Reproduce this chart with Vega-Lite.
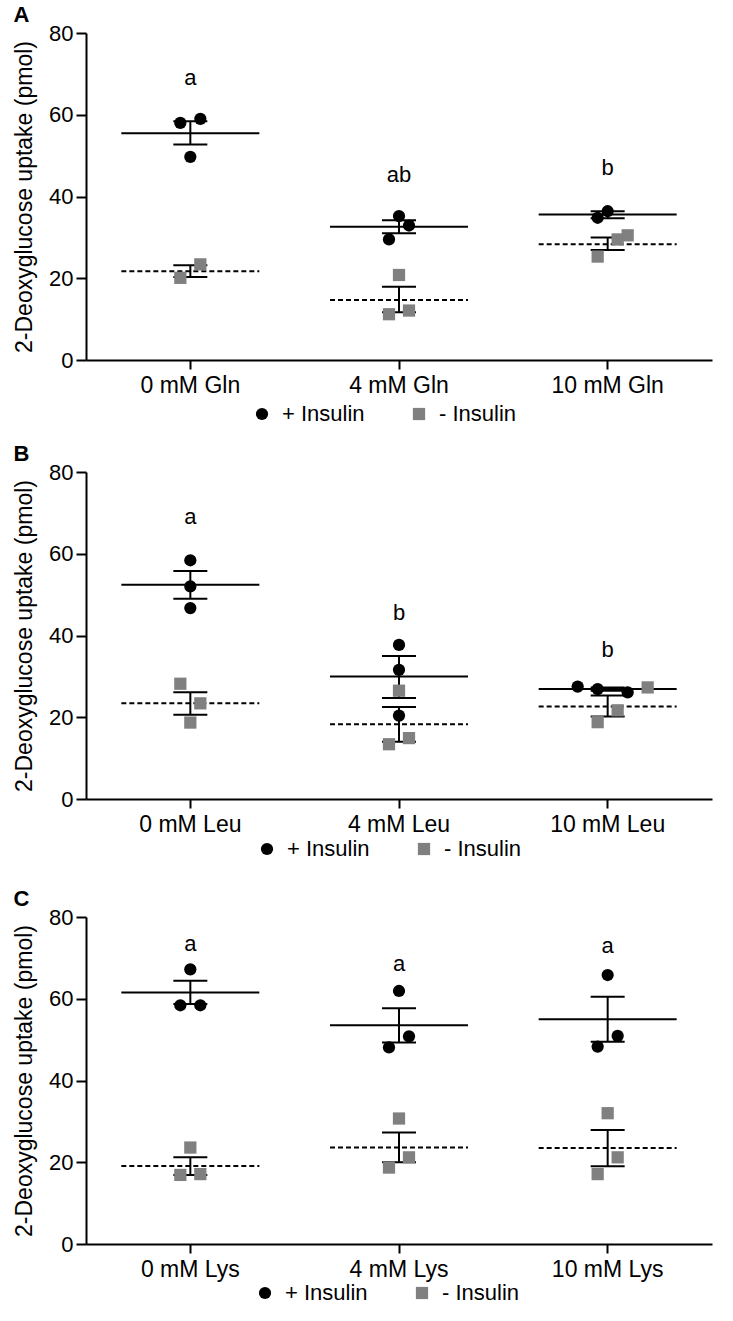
{
  "$schema": "https://vega.github.io/schema/vega-lite/v6.json",
  "padding": {"left": 13, "top": 4, "right": 5, "bottom": 5},
  "background": "white",
  "config": {
    "font": "Liberation Sans",
    "view": {"stroke": null},
    "axis": {"grid": false, "domainColor": "black", "domainWidth": 2, "tickColor": "black", "tickWidth": 2, "labelColor": "black", "titleColor": "black", "titleFontWeight": "normal"},
    "legend": {"labelColor": "black"},
    "text": {"color": "black"},
    "concat": {"spacing": 18}
  },
  "datasets": {
    "pts": [
      {"panel": "A", "cat": "0 mM Gln", "ins": "+ Insulin", "val": 58.0, "jit": -1},
      {"panel": "A", "cat": "0 mM Gln", "ins": "+ Insulin", "val": 59.0, "jit": 1},
      {"panel": "A", "cat": "0 mM Gln", "ins": "+ Insulin", "val": 49.7, "jit": 0},
      {"panel": "A", "cat": "0 mM Gln", "ins": "- Insulin", "val": 20.1, "jit": -1},
      {"panel": "A", "cat": "0 mM Gln", "ins": "- Insulin", "val": 23.4, "jit": 1},
      {"panel": "A", "cat": "4 mM Gln", "ins": "+ Insulin", "val": 35.2, "jit": 0},
      {"panel": "A", "cat": "4 mM Gln", "ins": "+ Insulin", "val": 32.9, "jit": 1},
      {"panel": "A", "cat": "4 mM Gln", "ins": "+ Insulin", "val": 29.5, "jit": -1},
      {"panel": "A", "cat": "4 mM Gln", "ins": "- Insulin", "val": 20.8, "jit": 0},
      {"panel": "A", "cat": "4 mM Gln", "ins": "- Insulin", "val": 11.2, "jit": -1},
      {"panel": "A", "cat": "4 mM Gln", "ins": "- Insulin", "val": 12.1, "jit": 1},
      {"panel": "A", "cat": "10 mM Gln", "ins": "+ Insulin", "val": 36.4, "jit": 0},
      {"panel": "A", "cat": "10 mM Gln", "ins": "+ Insulin", "val": 34.8, "jit": -1},
      {"panel": "A", "cat": "10 mM Gln", "ins": "- Insulin", "val": 30.5, "jit": 2},
      {"panel": "A", "cat": "10 mM Gln", "ins": "- Insulin", "val": 29.5, "jit": 1},
      {"panel": "A", "cat": "10 mM Gln", "ins": "- Insulin", "val": 25.3, "jit": -1},
      {"panel": "B", "cat": "0 mM Leu", "ins": "+ Insulin", "val": 58.4, "jit": 0},
      {"panel": "B", "cat": "0 mM Leu", "ins": "+ Insulin", "val": 52.0, "jit": 0},
      {"panel": "B", "cat": "0 mM Leu", "ins": "+ Insulin", "val": 46.7, "jit": 0},
      {"panel": "B", "cat": "0 mM Leu", "ins": "- Insulin", "val": 28.2, "jit": -1},
      {"panel": "B", "cat": "0 mM Leu", "ins": "- Insulin", "val": 23.4, "jit": 1},
      {"panel": "B", "cat": "0 mM Leu", "ins": "- Insulin", "val": 18.7, "jit": 0},
      {"panel": "B", "cat": "4 mM Leu", "ins": "+ Insulin", "val": 37.7, "jit": 0},
      {"panel": "B", "cat": "4 mM Leu", "ins": "+ Insulin", "val": 31.6, "jit": 0},
      {"panel": "B", "cat": "4 mM Leu", "ins": "+ Insulin", "val": 20.4, "jit": 0},
      {"panel": "B", "cat": "4 mM Leu", "ins": "- Insulin", "val": 26.5, "jit": 0},
      {"panel": "B", "cat": "4 mM Leu", "ins": "- Insulin", "val": 13.4, "jit": -1},
      {"panel": "B", "cat": "4 mM Leu", "ins": "- Insulin", "val": 14.9, "jit": 1},
      {"panel": "B", "cat": "10 mM Leu", "ins": "+ Insulin", "val": 27.5, "jit": -3},
      {"panel": "B", "cat": "10 mM Leu", "ins": "+ Insulin", "val": 26.9, "jit": -1},
      {"panel": "B", "cat": "10 mM Leu", "ins": "+ Insulin", "val": 26.1, "jit": 2},
      {"panel": "B", "cat": "10 mM Leu", "ins": "- Insulin", "val": 27.3, "jit": 4},
      {"panel": "B", "cat": "10 mM Leu", "ins": "- Insulin", "val": 21.7, "jit": 1},
      {"panel": "B", "cat": "10 mM Leu", "ins": "- Insulin", "val": 18.8, "jit": -1},
      {"panel": "C", "cat": "0 mM Lys", "ins": "+ Insulin", "val": 67.2, "jit": 0},
      {"panel": "C", "cat": "0 mM Lys", "ins": "+ Insulin", "val": 58.4, "jit": -1},
      {"panel": "C", "cat": "0 mM Lys", "ins": "+ Insulin", "val": 58.4, "jit": 1},
      {"panel": "C", "cat": "0 mM Lys", "ins": "- Insulin", "val": 23.6, "jit": 0},
      {"panel": "C", "cat": "0 mM Lys", "ins": "- Insulin", "val": 16.9, "jit": -1},
      {"panel": "C", "cat": "0 mM Lys", "ins": "- Insulin", "val": 17.1, "jit": 1},
      {"panel": "C", "cat": "4 mM Lys", "ins": "+ Insulin", "val": 61.9, "jit": 0},
      {"panel": "C", "cat": "4 mM Lys", "ins": "+ Insulin", "val": 50.8, "jit": 1},
      {"panel": "C", "cat": "4 mM Lys", "ins": "+ Insulin", "val": 48.1, "jit": -1},
      {"panel": "C", "cat": "4 mM Lys", "ins": "- Insulin", "val": 30.7, "jit": 0},
      {"panel": "C", "cat": "4 mM Lys", "ins": "- Insulin", "val": 21.2, "jit": 1},
      {"panel": "C", "cat": "4 mM Lys", "ins": "- Insulin", "val": 18.7, "jit": -1},
      {"panel": "C", "cat": "10 mM Lys", "ins": "+ Insulin", "val": 65.8, "jit": 0},
      {"panel": "C", "cat": "10 mM Lys", "ins": "+ Insulin", "val": 50.9, "jit": 1},
      {"panel": "C", "cat": "10 mM Lys", "ins": "+ Insulin", "val": 48.3, "jit": -1},
      {"panel": "C", "cat": "10 mM Lys", "ins": "- Insulin", "val": 32.0, "jit": 0},
      {"panel": "C", "cat": "10 mM Lys", "ins": "- Insulin", "val": 21.2, "jit": 1},
      {"panel": "C", "cat": "10 mM Lys", "ins": "- Insulin", "val": 17.1, "jit": -1}
    ],
    "sum": [
      {"panel": "A", "cat": "0 mM Gln", "ins": "+ Insulin", "mean": 55.5, "lo": 52.7, "hi": 58.4},
      {"panel": "A", "cat": "0 mM Gln", "ins": "- Insulin", "mean": 21.7, "lo": 20.3, "hi": 23.2},
      {"panel": "A", "cat": "4 mM Gln", "ins": "+ Insulin", "mean": 32.6, "lo": 31.0, "hi": 34.2},
      {"panel": "A", "cat": "4 mM Gln", "ins": "- Insulin", "mean": 14.7, "lo": 11.7, "hi": 17.9},
      {"panel": "A", "cat": "10 mM Gln", "ins": "+ Insulin", "mean": 35.6, "lo": 34.7, "hi": 36.4},
      {"panel": "A", "cat": "10 mM Gln", "ins": "- Insulin", "mean": 28.3, "lo": 26.9, "hi": 30.0},
      {"panel": "B", "cat": "0 mM Leu", "ins": "+ Insulin", "mean": 52.4, "lo": 49.0, "hi": 55.8},
      {"panel": "B", "cat": "0 mM Leu", "ins": "- Insulin", "mean": 23.4, "lo": 20.6, "hi": 26.1},
      {"panel": "B", "cat": "4 mM Leu", "ins": "+ Insulin", "mean": 30.0, "lo": 24.7, "hi": 35.0},
      {"panel": "B", "cat": "4 mM Leu", "ins": "- Insulin", "mean": 18.3, "lo": 14.0, "hi": 22.5},
      {"panel": "B", "cat": "10 mM Leu", "ins": "+ Insulin", "mean": 26.9, "lo": 26.5, "hi": 27.3},
      {"panel": "B", "cat": "10 mM Leu", "ins": "- Insulin", "mean": 22.6, "lo": 20.2, "hi": 25.3},
      {"panel": "C", "cat": "0 mM Lys", "ins": "+ Insulin", "mean": 61.5, "lo": 58.7, "hi": 64.4},
      {"panel": "C", "cat": "0 mM Lys", "ins": "- Insulin", "mean": 19.1, "lo": 16.9, "hi": 21.2},
      {"panel": "C", "cat": "4 mM Lys", "ins": "+ Insulin", "mean": 53.5, "lo": 49.3, "hi": 57.7},
      {"panel": "C", "cat": "4 mM Lys", "ins": "- Insulin", "mean": 23.6, "lo": 20.0, "hi": 27.3},
      {"panel": "C", "cat": "10 mM Lys", "ins": "+ Insulin", "mean": 55.0, "lo": 49.5, "hi": 60.5},
      {"panel": "C", "cat": "10 mM Lys", "ins": "- Insulin", "mean": 23.5, "lo": 19.0, "hi": 27.9}
    ],
    "lab": [
      {"panel": "A", "cat": "0 mM Gln", "txt": "a", "pos": 69.1},
      {"panel": "A", "cat": "4 mM Gln", "txt": "ab", "pos": 45.3},
      {"panel": "A", "cat": "10 mM Gln", "txt": "b", "pos": 47.0},
      {"panel": "B", "cat": "0 mM Leu", "txt": "a", "pos": 69.1},
      {"panel": "B", "cat": "4 mM Leu", "txt": "b", "pos": 45.5},
      {"panel": "B", "cat": "10 mM Leu", "txt": "b", "pos": 36.5},
      {"panel": "C", "cat": "0 mM Lys", "txt": "a", "pos": 73.3},
      {"panel": "C", "cat": "4 mM Lys", "txt": "a", "pos": 68.4},
      {"panel": "C", "cat": "10 mM Lys", "txt": "a", "pos": 72.9}
    ]
  },
  "resolve": {
    "scale": {"x": "independent", "color": "independent", "shape": "independent"},
    "legend": {"color": "independent", "shape": "independent"}
  },
  "vconcat": [
    {
      "title": {"text": "A", "anchor": "start", "frame": "bounds", "fontSize": 22, "fontWeight": "bold", "offset": -5},
      "width": 626, "height": 327,
      "layer": [
        {
          "data": {"name": "sum"}, "transform": [{"filter": "datum.panel === 'A' && datum.ins === '+ Insulin'"}],
          "mark": {"type": "rule", "color": "black", "strokeWidth": 2, "xOffset": -69, "x2Offset": 69},
          "encoding": {
            "x": {"field": "cat", "type": "nominal", "bandPosition": 0.5, "scale": {"type": "band", "domain": ["0 mM Gln", "4 mM Gln", "10 mM Gln"], "paddingInner": 0, "paddingOuter": 0}, "axis": {"title": null, "labelAngle": 0, "labelFontSize": 23, "tickSize": 9, "labelPadding": 5}},
            "x2": {"field": "cat", "bandPosition": 0.5},
            "y": {"field": "mean", "type": "quantitative", "scale": {"domain": [0, 80], "nice": false}, "axis": {"title": "2-Deoxyglucose uptake (pmol)", "values": [0, 20, 40, 60, 80], "labelFontSize": 22, "titleFontSize": 23, "tickSize": 10, "labelPadding": 3, "titlePadding": 12}}
          }
        },
        {
          "data": {"name": "sum"}, "transform": [{"filter": "datum.panel === 'A' && datum.ins === '- Insulin'"}],
          "mark": {"type": "rule", "color": "black", "strokeWidth": 2, "strokeDash": [5, 3], "xOffset": -69, "x2Offset": 69},
          "encoding": {"x": {"field": "cat", "type": "nominal", "bandPosition": 0.5}, "x2": {"field": "cat", "bandPosition": 0.5}, "y": {"field": "mean", "type": "quantitative"}}
        },
        {
          "data": {"name": "sum"}, "transform": [{"filter": "datum.panel === 'A'"}],
          "mark": {"type": "rule", "color": "black", "strokeWidth": 2},
          "encoding": {"x": {"field": "cat", "type": "nominal", "bandPosition": 0.5}, "y": {"field": "lo", "type": "quantitative"}, "y2": {"field": "hi"}}
        },
        {
          "data": {"name": "sum"}, "transform": [{"filter": "datum.panel === 'A'"}],
          "mark": {"type": "rule", "color": "black", "strokeWidth": 2, "xOffset": -17, "x2Offset": 17},
          "encoding": {"x": {"field": "cat", "type": "nominal", "bandPosition": 0.5}, "x2": {"field": "cat", "bandPosition": 0.5}, "y": {"field": "hi", "type": "quantitative"}}
        },
        {
          "data": {"name": "sum"}, "transform": [{"filter": "datum.panel === 'A'"}],
          "mark": {"type": "rule", "color": "black", "strokeWidth": 2, "xOffset": -17, "x2Offset": 17},
          "encoding": {"x": {"field": "cat", "type": "nominal", "bandPosition": 0.5}, "x2": {"field": "cat", "bandPosition": 0.5}, "y": {"field": "lo", "type": "quantitative"}}
        },
        {
          "data": {"name": "pts"}, "transform": [{"filter": "datum.panel === 'A'"}],
          "mark": {"type": "point", "filled": true, "opacity": 1, "size": 150},
          "encoding": {
            "x": {"field": "cat", "type": "nominal"},
            "xOffset": {"field": "jit", "type": "quantitative", "scale": {"domain": [-2, 2], "range": [84.33, 124.33]}},
            "y": {"field": "val", "type": "quantitative"},
            "color": {"field": "ins", "type": "nominal", "scale": {"domain": ["+ Insulin", "- Insulin"], "range": ["#000000", "#808080"]}, "legend": {"title": null, "orient": "none", "legendX": 165, "legendY": 370, "padding": 0, "direction": "horizontal", "labelFontSize": 22, "symbolSize": 150, "labelOffset": 9, "columnPadding": 43}},
            "shape": {"field": "ins", "type": "nominal", "scale": {"domain": ["+ Insulin", "- Insulin"], "range": ["circle", "square"]}, "legend": {"title": null, "orient": "none", "legendX": 165, "legendY": 370, "padding": 0, "direction": "horizontal", "labelFontSize": 22, "symbolSize": 150, "labelOffset": 9, "columnPadding": 43}}
          }
        },
        {
          "data": {"name": "lab"}, "transform": [{"filter": "datum.panel === 'A'"}],
          "mark": {"type": "text", "fontSize": 22, "baseline": "middle"},
          "encoding": {"x": {"field": "cat", "type": "nominal"}, "y": {"field": "pos", "type": "quantitative"}, "text": {"field": "txt"}}
        }
      ]
    },
    {
      "title": {"text": "B", "anchor": "start", "frame": "bounds", "fontSize": 22, "fontWeight": "bold", "offset": -5},
      "width": 626, "height": 327,
      "layer": [
        {
          "data": {"name": "sum"}, "transform": [{"filter": "datum.panel === 'B' && datum.ins === '+ Insulin'"}],
          "mark": {"type": "rule", "color": "black", "strokeWidth": 2, "xOffset": -69, "x2Offset": 69},
          "encoding": {
            "x": {"field": "cat", "type": "nominal", "bandPosition": 0.5, "scale": {"type": "band", "domain": ["0 mM Leu", "4 mM Leu", "10 mM Leu"], "paddingInner": 0, "paddingOuter": 0}, "axis": {"title": null, "labelAngle": 0, "labelFontSize": 23, "tickSize": 9, "labelPadding": 5}},
            "x2": {"field": "cat", "bandPosition": 0.5},
            "y": {"field": "mean", "type": "quantitative", "scale": {"domain": [0, 80], "nice": false}, "axis": {"title": "2-Deoxyglucose uptake (pmol)", "values": [0, 20, 40, 60, 80], "labelFontSize": 22, "titleFontSize": 23, "tickSize": 10, "labelPadding": 3, "titlePadding": 12}}
          }
        },
        {
          "data": {"name": "sum"}, "transform": [{"filter": "datum.panel === 'B' && datum.ins === '- Insulin'"}],
          "mark": {"type": "rule", "color": "black", "strokeWidth": 2, "strokeDash": [5, 3], "xOffset": -69, "x2Offset": 69},
          "encoding": {"x": {"field": "cat", "type": "nominal", "bandPosition": 0.5}, "x2": {"field": "cat", "bandPosition": 0.5}, "y": {"field": "mean", "type": "quantitative"}}
        },
        {
          "data": {"name": "sum"}, "transform": [{"filter": "datum.panel === 'B'"}],
          "mark": {"type": "rule", "color": "black", "strokeWidth": 2},
          "encoding": {"x": {"field": "cat", "type": "nominal", "bandPosition": 0.5}, "y": {"field": "lo", "type": "quantitative"}, "y2": {"field": "hi"}}
        },
        {
          "data": {"name": "sum"}, "transform": [{"filter": "datum.panel === 'B'"}],
          "mark": {"type": "rule", "color": "black", "strokeWidth": 2, "xOffset": -17, "x2Offset": 17},
          "encoding": {"x": {"field": "cat", "type": "nominal", "bandPosition": 0.5}, "x2": {"field": "cat", "bandPosition": 0.5}, "y": {"field": "hi", "type": "quantitative"}}
        },
        {
          "data": {"name": "sum"}, "transform": [{"filter": "datum.panel === 'B'"}],
          "mark": {"type": "rule", "color": "black", "strokeWidth": 2, "xOffset": -17, "x2Offset": 17},
          "encoding": {"x": {"field": "cat", "type": "nominal", "bandPosition": 0.5}, "x2": {"field": "cat", "bandPosition": 0.5}, "y": {"field": "lo", "type": "quantitative"}}
        },
        {
          "data": {"name": "pts"}, "transform": [{"filter": "datum.panel === 'B'"}],
          "mark": {"type": "point", "filled": true, "opacity": 1, "size": 150},
          "encoding": {
            "x": {"field": "cat", "type": "nominal"},
            "xOffset": {"field": "jit", "type": "quantitative", "scale": {"domain": [-2, 2], "range": [84.33, 124.33]}},
            "y": {"field": "val", "type": "quantitative"},
            "color": {"field": "ins", "type": "nominal", "scale": {"domain": ["+ Insulin", "- Insulin"], "range": ["#000000", "#808080"]}, "legend": {"title": null, "orient": "none", "legendX": 160, "legendY": 356, "padding": 10, "direction": "horizontal", "labelFontSize": 22, "symbolSize": 150, "labelOffset": 9, "columnPadding": 43}},
            "shape": {"field": "ins", "type": "nominal", "scale": {"domain": ["+ Insulin", "- Insulin"], "range": ["circle", "square"]}, "legend": {"title": null, "orient": "none", "legendX": 160, "legendY": 356, "padding": 10, "direction": "horizontal", "labelFontSize": 22, "symbolSize": 150, "labelOffset": 9, "columnPadding": 43}}
          }
        },
        {
          "data": {"name": "lab"}, "transform": [{"filter": "datum.panel === 'B'"}],
          "mark": {"type": "text", "fontSize": 22, "baseline": "middle"},
          "encoding": {"x": {"field": "cat", "type": "nominal"}, "y": {"field": "pos", "type": "quantitative"}, "text": {"field": "txt"}}
        }
      ]
    },
    {
      "title": {"text": "C", "anchor": "start", "frame": "bounds", "fontSize": 22, "fontWeight": "bold", "offset": -5},
      "width": 626, "height": 327,
      "layer": [
        {
          "data": {"name": "sum"}, "transform": [{"filter": "datum.panel === 'C' && datum.ins === '+ Insulin'"}],
          "mark": {"type": "rule", "color": "black", "strokeWidth": 2, "xOffset": -69, "x2Offset": 69},
          "encoding": {
            "x": {"field": "cat", "type": "nominal", "bandPosition": 0.5, "scale": {"type": "band", "domain": ["0 mM Lys", "4 mM Lys", "10 mM Lys"], "paddingInner": 0, "paddingOuter": 0}, "axis": {"title": null, "labelAngle": 0, "labelFontSize": 23, "tickSize": 9, "labelPadding": 5}},
            "x2": {"field": "cat", "bandPosition": 0.5},
            "y": {"field": "mean", "type": "quantitative", "scale": {"domain": [0, 80], "nice": false}, "axis": {"title": "2-Deoxyglucose uptake (pmol)", "values": [0, 20, 40, 60, 80], "labelFontSize": 22, "titleFontSize": 23, "tickSize": 10, "labelPadding": 3, "titlePadding": 12}}
          }
        },
        {
          "data": {"name": "sum"}, "transform": [{"filter": "datum.panel === 'C' && datum.ins === '- Insulin'"}],
          "mark": {"type": "rule", "color": "black", "strokeWidth": 2, "strokeDash": [5, 3], "xOffset": -69, "x2Offset": 69},
          "encoding": {"x": {"field": "cat", "type": "nominal", "bandPosition": 0.5}, "x2": {"field": "cat", "bandPosition": 0.5}, "y": {"field": "mean", "type": "quantitative"}}
        },
        {
          "data": {"name": "sum"}, "transform": [{"filter": "datum.panel === 'C'"}],
          "mark": {"type": "rule", "color": "black", "strokeWidth": 2},
          "encoding": {"x": {"field": "cat", "type": "nominal", "bandPosition": 0.5}, "y": {"field": "lo", "type": "quantitative"}, "y2": {"field": "hi"}}
        },
        {
          "data": {"name": "sum"}, "transform": [{"filter": "datum.panel === 'C'"}],
          "mark": {"type": "rule", "color": "black", "strokeWidth": 2, "xOffset": -17, "x2Offset": 17},
          "encoding": {"x": {"field": "cat", "type": "nominal", "bandPosition": 0.5}, "x2": {"field": "cat", "bandPosition": 0.5}, "y": {"field": "hi", "type": "quantitative"}}
        },
        {
          "data": {"name": "sum"}, "transform": [{"filter": "datum.panel === 'C'"}],
          "mark": {"type": "rule", "color": "black", "strokeWidth": 2, "xOffset": -17, "x2Offset": 17},
          "encoding": {"x": {"field": "cat", "type": "nominal", "bandPosition": 0.5}, "x2": {"field": "cat", "bandPosition": 0.5}, "y": {"field": "lo", "type": "quantitative"}}
        },
        {
          "data": {"name": "pts"}, "transform": [{"filter": "datum.panel === 'C'"}],
          "mark": {"type": "point", "filled": true, "opacity": 1, "size": 150},
          "encoding": {
            "x": {"field": "cat", "type": "nominal"},
            "xOffset": {"field": "jit", "type": "quantitative", "scale": {"domain": [-2, 2], "range": [84.33, 124.33]}},
            "y": {"field": "val", "type": "quantitative"},
            "color": {"field": "ins", "type": "nominal", "scale": {"domain": ["+ Insulin", "- Insulin"], "range": ["#000000", "#808080"]}, "legend": {"title": null, "orient": "none", "legendX": 168, "legendY": 365, "padding": 0, "direction": "horizontal", "labelFontSize": 22, "symbolSize": 150, "labelOffset": 9, "columnPadding": 43}},
            "shape": {"field": "ins", "type": "nominal", "scale": {"domain": ["+ Insulin", "- Insulin"], "range": ["circle", "square"]}, "legend": {"title": null, "orient": "none", "legendX": 168, "legendY": 365, "padding": 0, "direction": "horizontal", "labelFontSize": 22, "symbolSize": 150, "labelOffset": 9, "columnPadding": 43}}
          }
        },
        {
          "data": {"name": "lab"}, "transform": [{"filter": "datum.panel === 'C'"}],
          "mark": {"type": "text", "fontSize": 22, "baseline": "middle"},
          "encoding": {"x": {"field": "cat", "type": "nominal"}, "y": {"field": "pos", "type": "quantitative"}, "text": {"field": "txt"}}
        }
      ]
    }
  ]
}
